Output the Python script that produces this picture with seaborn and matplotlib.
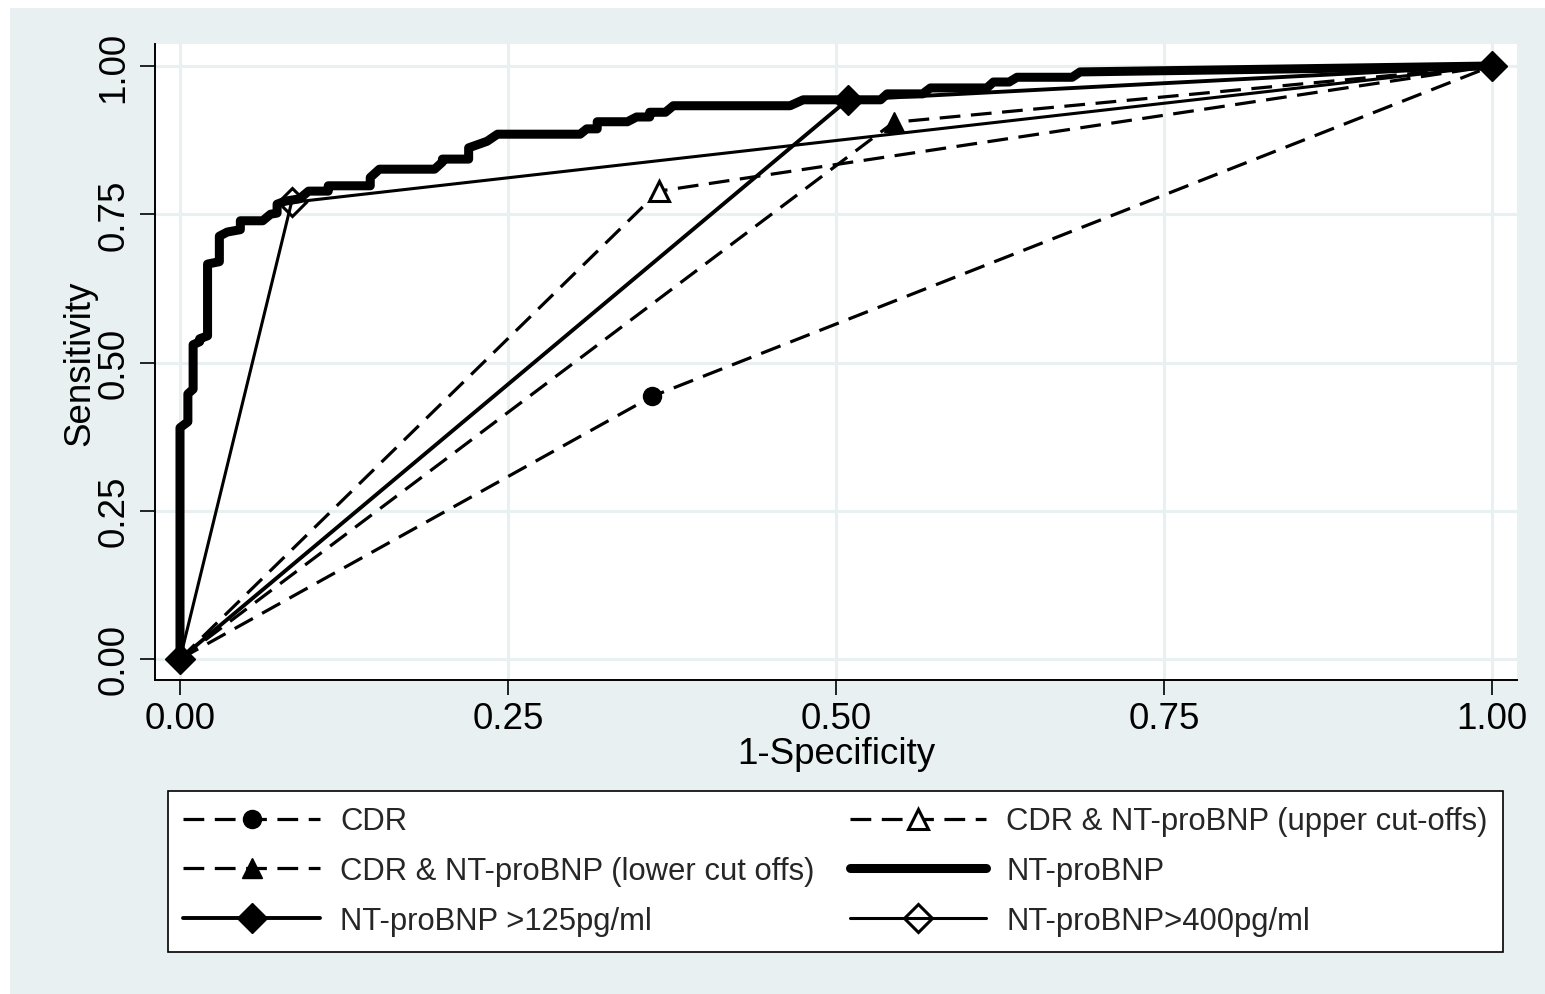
import matplotlib
matplotlib.use("Agg")
import matplotlib.pyplot as plt
import seaborn as sns
from matplotlib.patches import Rectangle

# ---------------- data ----------------
cdr_fpr = [0.0, 0.360, 1.0]
cdr_tpr = [0.0, 0.443, 1.0]

upper_fpr = [0.0, 0.365, 1.0]
upper_tpr = [0.0, 0.789, 1.0]

lower_fpr = [0.0, 0.544, 1.0]
lower_tpr = [0.0, 0.905, 1.0]

bnp_fpr = [0.0, 0.0, 0.006, 0.006, 0.010, 0.010, 0.015, 0.015, 0.021, 0.021,
           0.030, 0.030, 0.036, 0.046, 0.046, 0.063, 0.069, 0.074, 0.074, 0.080,
           0.091, 0.098, 0.113, 0.113, 0.145, 0.145, 0.152, 0.194, 0.200, 0.200,
           0.220, 0.220, 0.234, 0.242, 0.305, 0.310, 0.318, 0.318, 0.341, 0.348,
           0.358, 0.358, 0.370, 0.376, 0.465, 0.475, 0.534, 0.539, 0.566, 0.572,
           0.615, 0.620, 0.632, 0.638, 0.680, 0.686, 1.0]
bnp_tpr = [0.0, 0.390, 0.400, 0.447, 0.455, 0.530, 0.535, 0.540, 0.545, 0.666,
           0.670, 0.713, 0.720, 0.724, 0.739, 0.739, 0.750, 0.752, 0.767, 0.772,
           0.776, 0.789, 0.789, 0.798, 0.798, 0.812, 0.826, 0.826, 0.838, 0.843,
           0.843, 0.862, 0.873, 0.885, 0.885, 0.894, 0.894, 0.906, 0.906, 0.914,
           0.914, 0.922, 0.922, 0.933, 0.933, 0.943, 0.943, 0.953, 0.953, 0.963,
           0.963, 0.973, 0.973, 0.981, 0.981, 0.990, 1.0]

c125_fpr = [0.0, 0.509, 1.0]
c125_tpr = [0.0, 0.943, 1.0]

c400_fpr = [0.0, 0.085, 1.0]
c400_tpr = [0.0, 0.770, 1.0]

series_labels = ["CDR", "CDR & NT-proBNP (upper cut-offs)",
                 "CDR & NT-proBNP (lower cut offs)", "NT-proBNP",
                 "NT-proBNP >125pg/ml", "NT-proBNP>400pg/ml"]

tick_values = [0.0, 0.25, 0.50, 0.75, 1.0]
tick_labels = ["0.00", "0.25", "0.50", "0.75", "1.00"]
x_title = "1-Specificity"
y_title = "Sensitivity"

# ---------------- style ----------------
sns.set_theme(style="white")
plt.rcParams['font.family'] = ['Liberation Sans', 'DejaVu Sans']

W, H = 1545, 995
fig = plt.figure(figsize=(W / 100, H / 100), dpi=100)
fig.patch.set_facecolor("white")
BG = "#E8F0F2"
fig.add_artist(Rectangle((10 / W, 0), 1 - 10 / W, 1 - 9 / H,
                         transform=fig.transFigure, facecolor=BG,
                         edgecolor="none", zorder=-10))

ax = fig.add_axes([155 / W, 1 - 681 / H, (1517 - 155) / W, (681 - 45) / H])
ax.set_facecolor("white")

dash = (0, (6.5, 3.3))
common = dict(ax=ax, sort=False, estimator=None, color="black")

sns.lineplot(x=cdr_fpr, y=cdr_tpr, linewidth=2.3, linestyle=dash,
             marker="o", markersize=13, markevery=[1],
             markerfacecolor="black", markeredgecolor="black",
             markeredgewidth=1, label=series_labels[0], zorder=3, **common)
sns.lineplot(x=upper_fpr, y=upper_tpr, linewidth=2.3, linestyle=dash,
             marker="^", markersize=15, markevery=[1],
             markerfacecolor="white", markeredgecolor="black",
             markeredgewidth=2.2, label=series_labels[1], zorder=3, **common)
sns.lineplot(x=lower_fpr, y=lower_tpr, linewidth=2.3, linestyle=dash,
             marker="^", markersize=15, markevery=[1],
             markerfacecolor="black", markeredgecolor="black",
             markeredgewidth=1, label=series_labels[2], zorder=3, **common)
sns.lineplot(x=bnp_fpr, y=bnp_tpr, linewidth=6.5, linestyle="-",
             solid_joinstyle="round", solid_capstyle="round",
             label=series_labels[3], zorder=4, **common)
sns.lineplot(x=c125_fpr, y=c125_tpr, linewidth=2.8, linestyle="-",
             marker="D", markersize=15,
             markerfacecolor="black", markeredgecolor="black",
             markeredgewidth=1, label=series_labels[4], zorder=5, **common)
sns.lineplot(x=c400_fpr, y=c400_tpr, linewidth=2.2, linestyle="-",
             marker="D", markersize=14, markevery=[1],
             markerfacecolor="none", markeredgecolor="black",
             markeredgewidth=2.2, label=series_labels[5], zorder=4, **common)

# axes
ax.set_xlim((155 - 180) / 1312, (1517 - 180) / 1312)
ax.set_ylim((660 - 681) / 593, (660 - 45) / 593)
ax.set_xticks(tick_values)
ax.set_xticklabels(tick_labels)
ax.set_yticks(tick_values)
ax.set_yticklabels(tick_labels, rotation=90, va="center")
ax.tick_params(axis="both", direction="out", length=11, width=1.2,
               color="black", labelsize=26.5, labelcolor="black", pad=4)
ax.tick_params(axis="x", bottom=True)
ax.tick_params(axis="y", left=True, pad=6)
ax.grid(True, color=BG, linewidth=2.2, zorder=0)
ax.set_axisbelow(True)
for s in ["top", "right"]:
    ax.spines[s].set_visible(False)
for s in ["left", "bottom"]:
    ax.spines[s].set_color("black")
    ax.spines[s].set_linewidth(1.4)

ax.set_xlabel(x_title, fontsize=26.5, color="black")
ax.set_ylabel(y_title, fontsize=26.5, color="black")
ax.xaxis.set_label_coords(0.5, -(737 - 681) / 636)
ax.yaxis.set_label_coords((97 - 155) / 1362, 0.5)

# legend (row-wise order in 2 columns)
handles, labels = ax.get_legend_handles_labels()
if ax.get_legend() is not None:
    ax.get_legend().remove()
order = [0, 2, 4, 1, 3, 5]
leg = ax.legend([handles[i] for i in order], [labels[i] for i in order],
                ncol=2, loc="upper left",
                bbox_to_anchor=(168 / W, 1 - 792 / H),
                bbox_transform=fig.transFigure, borderaxespad=0,
                fontsize=22.3, frameon=True, fancybox=False,
                edgecolor="black", facecolor="white", framealpha=1,
                handlelength=4.4, handletextpad=0.65, borderpad=0.5,
                labelspacing=0.64, columnspacing=1.15, numpoints=1)
leg.get_frame().set_linewidth(1.2)

fig.savefig("out.png", dpi=100)
